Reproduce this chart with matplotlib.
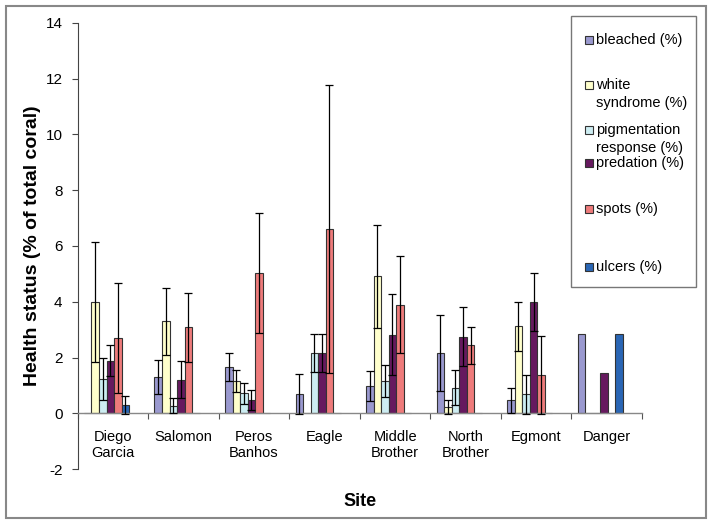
import numpy as np
import matplotlib
matplotlib.use("Agg")
import matplotlib.pyplot as plt
from matplotlib.patches import Rectangle

plt.rcParams['font.family'] = ['Liberation Sans', 'DejaVu Sans']
plt.rcParams['axes.unicode_minus'] = False

# sites and series values (% of total coral)
sites = ["Diego\nGarcia", "Salomon", "Peros\nBanhos", "Eagle", "Middle\nBrother",
         "North\nBrother", "Egmont", "Danger"]

bleached = [0, 1.31, 1.67, 0.70, 0.98, 2.17, 0.47, 2.85]
bleached_err = [0, 0.60, 0.49, 0.71, 0.55, 1.35, 0.46, 0]
white = [4.0, 3.30, 1.16, 0, 4.91, 0.24, 3.12, 0]
white_err = [2.15, 1.19, 0.38, 0, 1.85, 0.25, 0.87, 0]
pigment = [1.22, 0.28, 0.72, 2.15, 1.15, 0.93, 0.69, 0]
pigment_err = [0.75, 0.27, 0.37, 0.68, 0.57, 0.63, 0.70, 0]
predation = [1.89, 1.21, 0.48, 2.15, 2.82, 2.75, 3.99, 1.45]
predation_err = [0.56, 0.67, 0.37, 0.68, 1.45, 1.05, 1.04, 0]
spots = [2.71, 3.09, 5.03, 6.61, 3.89, 2.44, 1.39, 0]
spots_err = [1.96, 1.24, 2.14, 5.17, 1.74, 0.66, 1.40, 0]
ulcers = [0.30, 0, 0, 0, 0, 0, 0, 2.85]
ulcers_err = [0.31, 0, 0, 0, 0, 0, 0, 0]

series_names = ["bleached (%)", "white\nsyndrome (%)", "pigmentation\nresponse (%)",
                "predation (%)", "spots (%)", "ulcers (%)"]
series_vals = [bleached, white, pigment, predation, spots, ulcers]
series_errs = [bleached_err, white_err, pigment_err, predation_err, spots_err, ulcers_err]
colors = ["#9a99cf", "#ffffcc", "#cdedf2", "#66195f", "#ee7b7b", "#2a66b5"]

W, H = 714, 526
fig = plt.figure(figsize=(W / 100, H / 100), dpi=100)


def fx(px):
    return px / W


def fy(py):
    return 1 - py / H


ax = fig.add_axes([fx(77.7), fy(469.3), fx(642) - fx(77.7), fy(22.7) - fy(469.3)])

bar_w = 0.107
offset = 0.088
idx = np.arange(len(sites))
for j, (vals, errs, col) in enumerate(zip(series_vals, series_errs, colors)):
    x = idx + offset + (j + 0.5) * bar_w
    vals = np.array(vals, dtype=float)
    errs = np.array(errs, dtype=float)
    ax.bar(x, vals, bar_w, color=col, edgecolor="#333333", linewidth=0.8, zorder=2)
    m = errs > 0
    ax.errorbar(x[m], vals[m], yerr=errs[m], fmt="none", ecolor="black",
                elinewidth=0.9, capsize=3, capthick=0.9, zorder=3)

ax.set_xlim(0, len(sites))
ax.set_ylim(-2, 14)
ax.set_yticks(np.arange(-2, 15, 2))
ax.tick_params(axis="y", direction="out", length=4, width=0.8, colors="#444444",
               labelcolor="black", labelsize=11, pad=7)

ax.spines["top"].set_visible(False)
ax.spines["right"].set_visible(False)
ax.spines["left"].set_color("#444444")
ax.spines["left"].set_linewidth(0.8)
ax.spines["bottom"].set_position(("data", 0))
ax.spines["bottom"].set_color("#888888")
ax.spines["bottom"].set_linewidth(1.0)

ax.set_xticks(np.arange(0, len(sites) + 1))
ax.set_xticklabels([])
ax.set_xticks(idx + 0.5, minor=True)
ax.set_xticklabels(sites, minor=True, fontsize=10.5)
ax.tick_params(axis="x", which="major", direction="out", length=4, width=0.8, colors="#555555")
ax.tick_params(axis="x", which="minor", length=0, pad=12, labelcolor="black")

fig.text(fx(33), fy(246), "Health status (% of total coral)", rotation=90,
         ha="center", va="center", fontsize=14, fontweight="bold")
fig.text(fx(360), fy(501), "Site", ha="center", va="center", fontsize=13, fontweight="bold")

# legend box drawn by hand to follow the original spacing
fig.patches.append(Rectangle((fx(571), fy(287)), fx(696) - fx(571), fy(16) - fy(287),
                             transform=fig.transFigure, fill=False, edgecolor="#777777", lw=1.0))
leg_y = [40, 85, 130, 163, 209, 267]
for name, col, yy in zip(series_names, colors, leg_y):
    fig.patches.append(Rectangle((fx(585), fy(yy + 4)), fx(8), 8 / H, transform=fig.transFigure,
                                 facecolor=col, edgecolor="#333333", lw=0.8))
    for k, line in enumerate(name.split("\n")):
        fig.text(fx(596), fy(yy + k * 18), line, ha="left", va="center", fontsize=10.5)

# outer chart frame
fig.patches.append(Rectangle((fx(6), fy(518)), fx(700), 512 / H, transform=fig.transFigure,
                             fill=False, edgecolor="#888888", lw=1.5))

fig.savefig("out.png", dpi=100)
